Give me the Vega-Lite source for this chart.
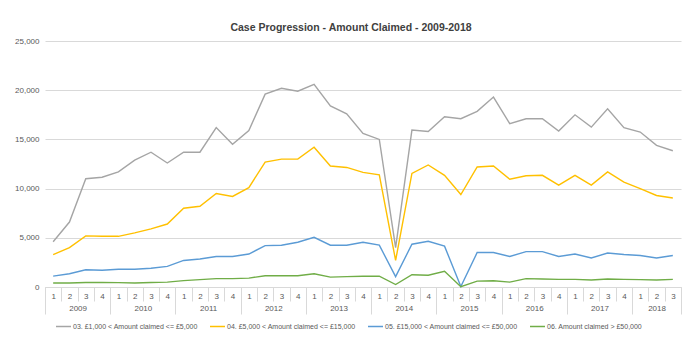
{
 "$schema": "https://vega.github.io/schema/vega-lite/v6.json",
 "width": 636,
 "height": 246,
 "autosize": {"type": "none"},
 "padding": {"left": 45, "top": 41, "right": 19, "bottom": 64},
 "background": "white",
 "config": {"view": {"stroke": null}, "font": "Liberation Sans"},
 "title": {"text": "Case Progression - Amount Claimed - 2009-2018", "fontSize": 10.5, "fontWeight": "bold", "color": "#404040", "anchor": "middle", "dx": -12, "offset": 4},
 "data": {"values": [
  {"i":0,"s":"03. £1,000 < Amount claimed <= £5,000","v":4600},
  {"i":1,"s":"03. £1,000 < Amount claimed <= £5,000","v":6600},
  {"i":2,"s":"03. £1,000 < Amount claimed <= £5,000","v":11000},
  {"i":3,"s":"03. £1,000 < Amount claimed <= £5,000","v":11150},
  {"i":4,"s":"03. £1,000 < Amount claimed <= £5,000","v":11700},
  {"i":5,"s":"03. £1,000 < Amount claimed <= £5,000","v":12900},
  {"i":6,"s":"03. £1,000 < Amount claimed <= £5,000","v":13700},
  {"i":7,"s":"03. £1,000 < Amount claimed <= £5,000","v":12600},
  {"i":8,"s":"03. £1,000 < Amount claimed <= £5,000","v":13700},
  {"i":9,"s":"03. £1,000 < Amount claimed <= £5,000","v":13700},
  {"i":10,"s":"03. £1,000 < Amount claimed <= £5,000","v":16200},
  {"i":11,"s":"03. £1,000 < Amount claimed <= £5,000","v":14500},
  {"i":12,"s":"03. £1,000 < Amount claimed <= £5,000","v":15900},
  {"i":13,"s":"03. £1,000 < Amount claimed <= £5,000","v":19600},
  {"i":14,"s":"03. £1,000 < Amount claimed <= £5,000","v":20200},
  {"i":15,"s":"03. £1,000 < Amount claimed <= £5,000","v":19900},
  {"i":16,"s":"03. £1,000 < Amount claimed <= £5,000","v":20600},
  {"i":17,"s":"03. £1,000 < Amount claimed <= £5,000","v":18400},
  {"i":18,"s":"03. £1,000 < Amount claimed <= £5,000","v":17600},
  {"i":19,"s":"03. £1,000 < Amount claimed <= £5,000","v":15600},
  {"i":20,"s":"03. £1,000 < Amount claimed <= £5,000","v":15000},
  {"i":21,"s":"03. £1,000 < Amount claimed <= £5,000","v":4000},
  {"i":22,"s":"03. £1,000 < Amount claimed <= £5,000","v":15950},
  {"i":23,"s":"03. £1,000 < Amount claimed <= £5,000","v":15800},
  {"i":24,"s":"03. £1,000 < Amount claimed <= £5,000","v":17300},
  {"i":25,"s":"03. £1,000 < Amount claimed <= £5,000","v":17100},
  {"i":26,"s":"03. £1,000 < Amount claimed <= £5,000","v":17850},
  {"i":27,"s":"03. £1,000 < Amount claimed <= £5,000","v":19300},
  {"i":28,"s":"03. £1,000 < Amount claimed <= £5,000","v":16600},
  {"i":29,"s":"03. £1,000 < Amount claimed <= £5,000","v":17100},
  {"i":30,"s":"03. £1,000 < Amount claimed <= £5,000","v":17100},
  {"i":31,"s":"03. £1,000 < Amount claimed <= £5,000","v":15850},
  {"i":32,"s":"03. £1,000 < Amount claimed <= £5,000","v":17500},
  {"i":33,"s":"03. £1,000 < Amount claimed <= £5,000","v":16250},
  {"i":34,"s":"03. £1,000 < Amount claimed <= £5,000","v":18100},
  {"i":35,"s":"03. £1,000 < Amount claimed <= £5,000","v":16200},
  {"i":36,"s":"03. £1,000 < Amount claimed <= £5,000","v":15750},
  {"i":37,"s":"03. £1,000 < Amount claimed <= £5,000","v":14400},
  {"i":38,"s":"03. £1,000 < Amount claimed <= £5,000","v":13850},
  {"i":0,"s":"04. £5,000 < Amount claimed <= £15,000","v":3300},
  {"i":1,"s":"04. £5,000 < Amount claimed <= £15,000","v":4000},
  {"i":2,"s":"04. £5,000 < Amount claimed <= £15,000","v":5200},
  {"i":3,"s":"04. £5,000 < Amount claimed <= £15,000","v":5150},
  {"i":4,"s":"04. £5,000 < Amount claimed <= £15,000","v":5150},
  {"i":5,"s":"04. £5,000 < Amount claimed <= £15,000","v":5500},
  {"i":6,"s":"04. £5,000 < Amount claimed <= £15,000","v":5900},
  {"i":7,"s":"04. £5,000 < Amount claimed <= £15,000","v":6400},
  {"i":8,"s":"04. £5,000 < Amount claimed <= £15,000","v":8000},
  {"i":9,"s":"04. £5,000 < Amount claimed <= £15,000","v":8200},
  {"i":10,"s":"04. £5,000 < Amount claimed <= £15,000","v":9500},
  {"i":11,"s":"04. £5,000 < Amount claimed <= £15,000","v":9200},
  {"i":12,"s":"04. £5,000 < Amount claimed <= £15,000","v":10100},
  {"i":13,"s":"04. £5,000 < Amount claimed <= £15,000","v":12700},
  {"i":14,"s":"04. £5,000 < Amount claimed <= £15,000","v":13000},
  {"i":15,"s":"04. £5,000 < Amount claimed <= £15,000","v":13000},
  {"i":16,"s":"04. £5,000 < Amount claimed <= £15,000","v":14200},
  {"i":17,"s":"04. £5,000 < Amount claimed <= £15,000","v":12300},
  {"i":18,"s":"04. £5,000 < Amount claimed <= £15,000","v":12150},
  {"i":19,"s":"04. £5,000 < Amount claimed <= £15,000","v":11650},
  {"i":20,"s":"04. £5,000 < Amount claimed <= £15,000","v":11400},
  {"i":21,"s":"04. £5,000 < Amount claimed <= £15,000","v":2700},
  {"i":22,"s":"04. £5,000 < Amount claimed <= £15,000","v":11550},
  {"i":23,"s":"04. £5,000 < Amount claimed <= £15,000","v":12400},
  {"i":24,"s":"04. £5,000 < Amount claimed <= £15,000","v":11350},
  {"i":25,"s":"04. £5,000 < Amount claimed <= £15,000","v":9400},
  {"i":26,"s":"04. £5,000 < Amount claimed <= £15,000","v":12200},
  {"i":27,"s":"04. £5,000 < Amount claimed <= £15,000","v":12300},
  {"i":28,"s":"04. £5,000 < Amount claimed <= £15,000","v":10950},
  {"i":29,"s":"04. £5,000 < Amount claimed <= £15,000","v":11300},
  {"i":30,"s":"04. £5,000 < Amount claimed <= £15,000","v":11350},
  {"i":31,"s":"04. £5,000 < Amount claimed <= £15,000","v":10350},
  {"i":32,"s":"04. £5,000 < Amount claimed <= £15,000","v":11350},
  {"i":33,"s":"04. £5,000 < Amount claimed <= £15,000","v":10350},
  {"i":34,"s":"04. £5,000 < Amount claimed <= £15,000","v":11700},
  {"i":35,"s":"04. £5,000 < Amount claimed <= £15,000","v":10650},
  {"i":36,"s":"04. £5,000 < Amount claimed <= £15,000","v":10000},
  {"i":37,"s":"04. £5,000 < Amount claimed <= £15,000","v":9300},
  {"i":38,"s":"04. £5,000 < Amount claimed <= £15,000","v":9050},
  {"i":0,"s":"05. £15,000 < Amount claimed <= £50,000","v":1100},
  {"i":1,"s":"05. £15,000 < Amount claimed <= £50,000","v":1350},
  {"i":2,"s":"05. £15,000 < Amount claimed <= £50,000","v":1750},
  {"i":3,"s":"05. £15,000 < Amount claimed <= £50,000","v":1700},
  {"i":4,"s":"05. £15,000 < Amount claimed <= £50,000","v":1800},
  {"i":5,"s":"05. £15,000 < Amount claimed <= £50,000","v":1800},
  {"i":6,"s":"05. £15,000 < Amount claimed <= £50,000","v":1900},
  {"i":7,"s":"05. £15,000 < Amount claimed <= £50,000","v":2100},
  {"i":8,"s":"05. £15,000 < Amount claimed <= £50,000","v":2700},
  {"i":9,"s":"05. £15,000 < Amount claimed <= £50,000","v":2850},
  {"i":10,"s":"05. £15,000 < Amount claimed <= £50,000","v":3100},
  {"i":11,"s":"05. £15,000 < Amount claimed <= £50,000","v":3100},
  {"i":12,"s":"05. £15,000 < Amount claimed <= £50,000","v":3350},
  {"i":13,"s":"05. £15,000 < Amount claimed <= £50,000","v":4200},
  {"i":14,"s":"05. £15,000 < Amount claimed <= £50,000","v":4250},
  {"i":15,"s":"05. £15,000 < Amount claimed <= £50,000","v":4550},
  {"i":16,"s":"05. £15,000 < Amount claimed <= £50,000","v":5050},
  {"i":17,"s":"05. £15,000 < Amount claimed <= £50,000","v":4250},
  {"i":18,"s":"05. £15,000 < Amount claimed <= £50,000","v":4250},
  {"i":19,"s":"05. £15,000 < Amount claimed <= £50,000","v":4550},
  {"i":20,"s":"05. £15,000 < Amount claimed <= £50,000","v":4250},
  {"i":21,"s":"05. £15,000 < Amount claimed <= £50,000","v":1050},
  {"i":22,"s":"05. £15,000 < Amount claimed <= £50,000","v":4350},
  {"i":23,"s":"05. £15,000 < Amount claimed <= £50,000","v":4650},
  {"i":24,"s":"05. £15,000 < Amount claimed <= £50,000","v":4150},
  {"i":25,"s":"05. £15,000 < Amount claimed <= £50,000","v":50},
  {"i":26,"s":"05. £15,000 < Amount claimed <= £50,000","v":3500},
  {"i":27,"s":"05. £15,000 < Amount claimed <= £50,000","v":3500},
  {"i":28,"s":"05. £15,000 < Amount claimed <= £50,000","v":3100},
  {"i":29,"s":"05. £15,000 < Amount claimed <= £50,000","v":3600},
  {"i":30,"s":"05. £15,000 < Amount claimed <= £50,000","v":3600},
  {"i":31,"s":"05. £15,000 < Amount claimed <= £50,000","v":3100},
  {"i":32,"s":"05. £15,000 < Amount claimed <= £50,000","v":3350},
  {"i":33,"s":"05. £15,000 < Amount claimed <= £50,000","v":2950},
  {"i":34,"s":"05. £15,000 < Amount claimed <= £50,000","v":3450},
  {"i":35,"s":"05. £15,000 < Amount claimed <= £50,000","v":3300},
  {"i":36,"s":"05. £15,000 < Amount claimed <= £50,000","v":3200},
  {"i":37,"s":"05. £15,000 < Amount claimed <= £50,000","v":2950},
  {"i":38,"s":"05. £15,000 < Amount claimed <= £50,000","v":3200},
  {"i":0,"s":"06. Amount claimed > £50,000","v":400},
  {"i":1,"s":"06. Amount claimed > £50,000","v":400},
  {"i":2,"s":"06. Amount claimed > £50,000","v":450},
  {"i":3,"s":"06. Amount claimed > £50,000","v":450},
  {"i":4,"s":"06. Amount claimed > £50,000","v":440},
  {"i":5,"s":"06. Amount claimed > £50,000","v":400},
  {"i":6,"s":"06. Amount claimed > £50,000","v":450},
  {"i":7,"s":"06. Amount claimed > £50,000","v":500},
  {"i":8,"s":"06. Amount claimed > £50,000","v":650},
  {"i":9,"s":"06. Amount claimed > £50,000","v":750},
  {"i":10,"s":"06. Amount claimed > £50,000","v":850},
  {"i":11,"s":"06. Amount claimed > £50,000","v":850},
  {"i":12,"s":"06. Amount claimed > £50,000","v":900},
  {"i":13,"s":"06. Amount claimed > £50,000","v":1150},
  {"i":14,"s":"06. Amount claimed > £50,000","v":1150},
  {"i":15,"s":"06. Amount claimed > £50,000","v":1150},
  {"i":16,"s":"06. Amount claimed > £50,000","v":1350},
  {"i":17,"s":"06. Amount claimed > £50,000","v":1000},
  {"i":18,"s":"06. Amount claimed > £50,000","v":1050},
  {"i":19,"s":"06. Amount claimed > £50,000","v":1100},
  {"i":20,"s":"06. Amount claimed > £50,000","v":1100},
  {"i":21,"s":"06. Amount claimed > £50,000","v":250},
  {"i":22,"s":"06. Amount claimed > £50,000","v":1250},
  {"i":23,"s":"06. Amount claimed > £50,000","v":1200},
  {"i":24,"s":"06. Amount claimed > £50,000","v":1600},
  {"i":25,"s":"06. Amount claimed > £50,000","v":30},
  {"i":26,"s":"06. Amount claimed > £50,000","v":600},
  {"i":27,"s":"06. Amount claimed > £50,000","v":640},
  {"i":28,"s":"06. Amount claimed > £50,000","v":500},
  {"i":29,"s":"06. Amount claimed > £50,000","v":850},
  {"i":30,"s":"06. Amount claimed > £50,000","v":810},
  {"i":31,"s":"06. Amount claimed > £50,000","v":780},
  {"i":32,"s":"06. Amount claimed > £50,000","v":780},
  {"i":33,"s":"06. Amount claimed > £50,000","v":710},
  {"i":34,"s":"06. Amount claimed > £50,000","v":810},
  {"i":35,"s":"06. Amount claimed > £50,000","v":780},
  {"i":36,"s":"06. Amount claimed > £50,000","v":745},
  {"i":37,"s":"06. Amount claimed > £50,000","v":710},
  {"i":38,"s":"06. Amount claimed > £50,000","v":780}
 ]},
 "layer": [
  {
   "mark": {"type": "line", "strokeWidth": 1.4},
   "encoding": {
    "x": {"field": "i", "type": "quantitative", "scale": {"domain": [-0.5, 38.5], "nice": false, "zero": false},
     "axis": {"orient": "bottom", "title": null, "values": [0,1,2,3,4,5,6,7,8,9,10,11,12,13,14,15,16,17,18,19,20,21,22,23,24,25,26,27,28,29,30,31,32,33,34,35,36,37,38],
      "labelExpr": "'' + ((datum.value % 4) + 1)", "ticks": false, "tickSize": 0, "domain": true, "domainColor": "#d9d9d9", "grid": false,
      "labelPadding": 5, "labelFontSize": 8, "labelColor": "#595959", "labelAngle": 0, "labelFlush": false, "labelOverlap": false}},
    "y": {"field": "v", "type": "quantitative", "scale": {"domain": [0, 25000], "nice": false},
     "axis": {"title": null, "values": [0, 5000, 10000, 15000, 20000, 25000], "format": ",.0f", "domain": false, "ticks": false, "tickSize": 0,
      "gridColor": "#d9d9d9", "gridWidth": 1, "labelPadding": 6, "labelFontSize": 8, "labelColor": "#595959"}},
    "color": {"field": "s", "type": "nominal",
     "scale": {"domain": ["03. £1,000 < Amount claimed <= £5,000", "04. £5,000 < Amount claimed <= £15,000", "05. £15,000 < Amount claimed <= £50,000", "06. Amount claimed > £50,000"],
      "range": ["#a5a5a5", "#ffc000", "#5b9bd5", "#70ad47"]},
     "legend": {"orient": "none", "legendX": 10, "legendY": 277, "direction": "horizontal", "title": null, "symbolType": "stroke", "symbolSize": 225, "symbolStrokeWidth": 1.5,
      "labelFontSize": 7, "labelColor": "#595959", "columnPadding": 9, "labelOffset": 1, "gridAlign": "none", "padding": 0}}
   }
  },
  {
   "mark": {"type": "rule", "opacity": 0},
   "encoding": {
    "x": {"field": "i", "type": "quantitative",
     "axis": {"orient": "bottom", "title": null, "values": [-0.5,0.5,1.5,2.5,3.5,4.5,5.5,6.5,7.5,8.5,9.5,10.5,11.5,12.5,13.5,14.5,15.5,16.5,17.5,18.5,19.5,20.5,21.5,22.5,23.5,24.5,25.5,26.5,27.5,28.5,29.5,30.5,31.5,32.5,33.5,34.5,35.5,36.5,37.5,38.5],
      "labels": false, "ticks": true, "tickSize": 14, "tickColor": "#d9d9d9", "domain": false, "grid": false}}
   }
  },
  {
   "mark": {"type": "rule", "opacity": 0},
   "encoding": {
    "x": {"field": "i", "type": "quantitative",
     "axis": {"orient": "bottom", "title": null, "values": [-0.5,3.5,7.5,11.5,15.5,19.5,23.5,27.5,31.5,35.5,38.5],
      "labels": false, "ticks": true, "tickSize": 27, "tickColor": "#d9d9d9", "domain": false, "grid": false}}
   }
  },
  {
   "mark": {"type": "rule", "opacity": 0},
   "encoding": {
    "x": {"field": "i", "type": "quantitative",
     "axis": {"orient": "bottom", "title": null, "values": [1.5,5.5,9.5,13.5,17.5,21.5,25.5,29.5,33.5,37],
      "labelExpr": "'' + (2009 + floor((datum.value + 0.5) / 4))", "ticks": false, "tickSize": 0, "domain": false, "grid": false,
      "labelPadding": 17, "labelFontSize": 8, "labelColor": "#595959", "labelAngle": 0, "labelFlush": false, "labelOverlap": false}}
   }
  }
 ],
 "resolve": {"axis": {"x": "independent"}}
}
